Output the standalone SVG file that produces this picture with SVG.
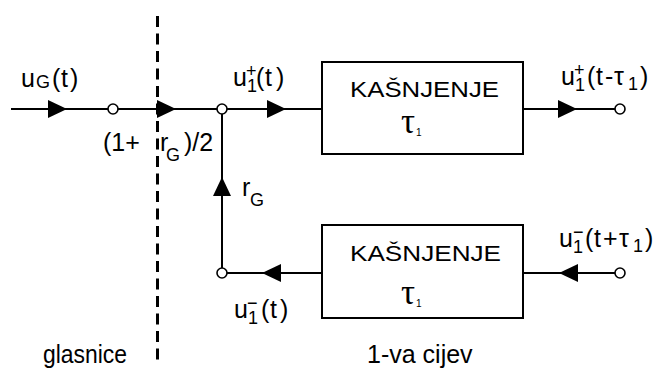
<svg xmlns="http://www.w3.org/2000/svg" xmlns:xlink="http://www.w3.org/1999/xlink" width="659" height="369" viewBox="0 0 659 369">
<style>
.t{font-family:"Liberation Sans",Arial,sans-serif;font-size:25px;fill:#000}
.s{font-size:18px}
.k{font-size:22px}
.tau{font-family:"Liberation Serif","Times New Roman",serif;font-size:35px}
.sub{font-size:10px}
.w{fill:none;stroke:#000;stroke-width:2}
.box{fill:#fff;stroke:#000;stroke-width:2}
.node{fill:#fff;stroke:#000;stroke-width:1.6}
.dash{fill:none;stroke:#000;stroke-width:3;stroke-dasharray:11 6.5}
</style>
<defs>
<path id="ah" d="M0,0 L-19,-9 L-19,9 Z" fill="#000"/>
</defs>
<g id="boundary">
<line class="dash" x1="157.5" y1="16" x2="157.5" y2="366"/>
</g>
<g id="connectors">
<path class="w" d="M11,109 H322"/>
<path class="w" d="M523,109 H615"/>
<path class="w" d="M222,114 V268"/>
<path class="w" d="M227,273 H322"/>
<path class="w" d="M523,273 H615"/>
<use xlink:href="#ah" transform="translate(67,109)"/>
<use xlink:href="#ah" transform="translate(176,109)"/>
<use xlink:href="#ah" transform="translate(286,109)"/>
<use xlink:href="#ah" transform="translate(577,109)"/>
<use xlink:href="#ah" transform="translate(222,177) rotate(-90)"/>
<use xlink:href="#ah" transform="translate(262,273) rotate(180)"/>
<use xlink:href="#ah" transform="translate(559,273) rotate(180)"/>
</g>
<g id="n1"><circle class="node" cx="113" cy="109" r="5"/></g>
<g id="n2"><circle class="node" cx="222" cy="109" r="5"/></g>
<g id="n3"><circle class="node" cx="620" cy="109" r="5"/></g>
<g id="n4"><circle class="node" cx="222" cy="273" r="5"/></g>
<g id="n5"><circle class="node" cx="620" cy="273" r="5"/></g>
<g id="delay1">
<rect class="box" x="322" y="62" width="201" height="92"/>
<text class="t k" x="350" y="97" textLength="149" lengthAdjust="spacingAndGlyphs">KAŠNJENJE</text>
<text class="t"><tspan class="tau" x="401" y="133">τ</tspan><tspan class="sub" x="416" y="136">1</tspan></text>
</g>
<g id="delay2">
<rect class="box" x="322" y="225" width="201" height="93"/>
<text class="t k" x="350" y="261" textLength="151" lengthAdjust="spacingAndGlyphs">KAŠNJENJE</text>
<text class="t"><tspan class="tau" x="401" y="304">τ</tspan><tspan class="sub" x="416" y="307">1</tspan></text>
</g>
<g id="labels">
<text class="t"><tspan x="21" y="87">u</tspan><tspan class="s" x="36" y="88">G</tspan><tspan x="52 61 70" y="87">(t)</tspan></text>
<text class="t"><tspan x="103" y="151">(1+</tspan><tspan x="160" y="151">r</tspan><tspan class="s" x="166" y="161">G</tspan><tspan x="184" y="151">)/2</tspan></text>
<text class="t"><tspan x="233" y="86">u</tspan><tspan class="s" x="247" y="92">1</tspan><tspan class="s" x="246" y="77">+</tspan><tspan x="256 265 276" y="86">(t)</tspan></text>
<text class="t"><tspan x="561" y="85">u</tspan><tspan class="s" x="575" y="91">1</tspan><tspan class="s" x="574" y="76">+</tspan><tspan x="587 596 605 614" y="85">(t-τ</tspan><tspan class="s" x="628" y="90">1</tspan><tspan x="640" y="85">)</tspan></text>
<text class="t"><tspan x="242" y="196">r</tspan><tspan class="s" x="250" y="206">G</tspan></text>
<text class="t"><tspan x="559" y="247">u</tspan><tspan class="s" x="573" y="253">1</tspan><tspan class="s" x="573" y="238">−</tspan><tspan x="585 594 603 619" y="247">(t+τ</tspan><tspan class="s" x="633" y="252">1</tspan><tspan x="645" y="247">)</tspan></text>
<text class="t"><tspan x="234" y="318">u</tspan><tspan class="s" x="248" y="324">1</tspan><tspan class="s" x="247" y="309">−</tspan><tspan x="261 270 280" y="318">(t)</tspan></text>
<text class="t" x="43" y="363" textLength="84" lengthAdjust="spacingAndGlyphs">glasnice</text>
<text class="t" x="367" y="363">1-va cijev</text>
</g>
</svg>
